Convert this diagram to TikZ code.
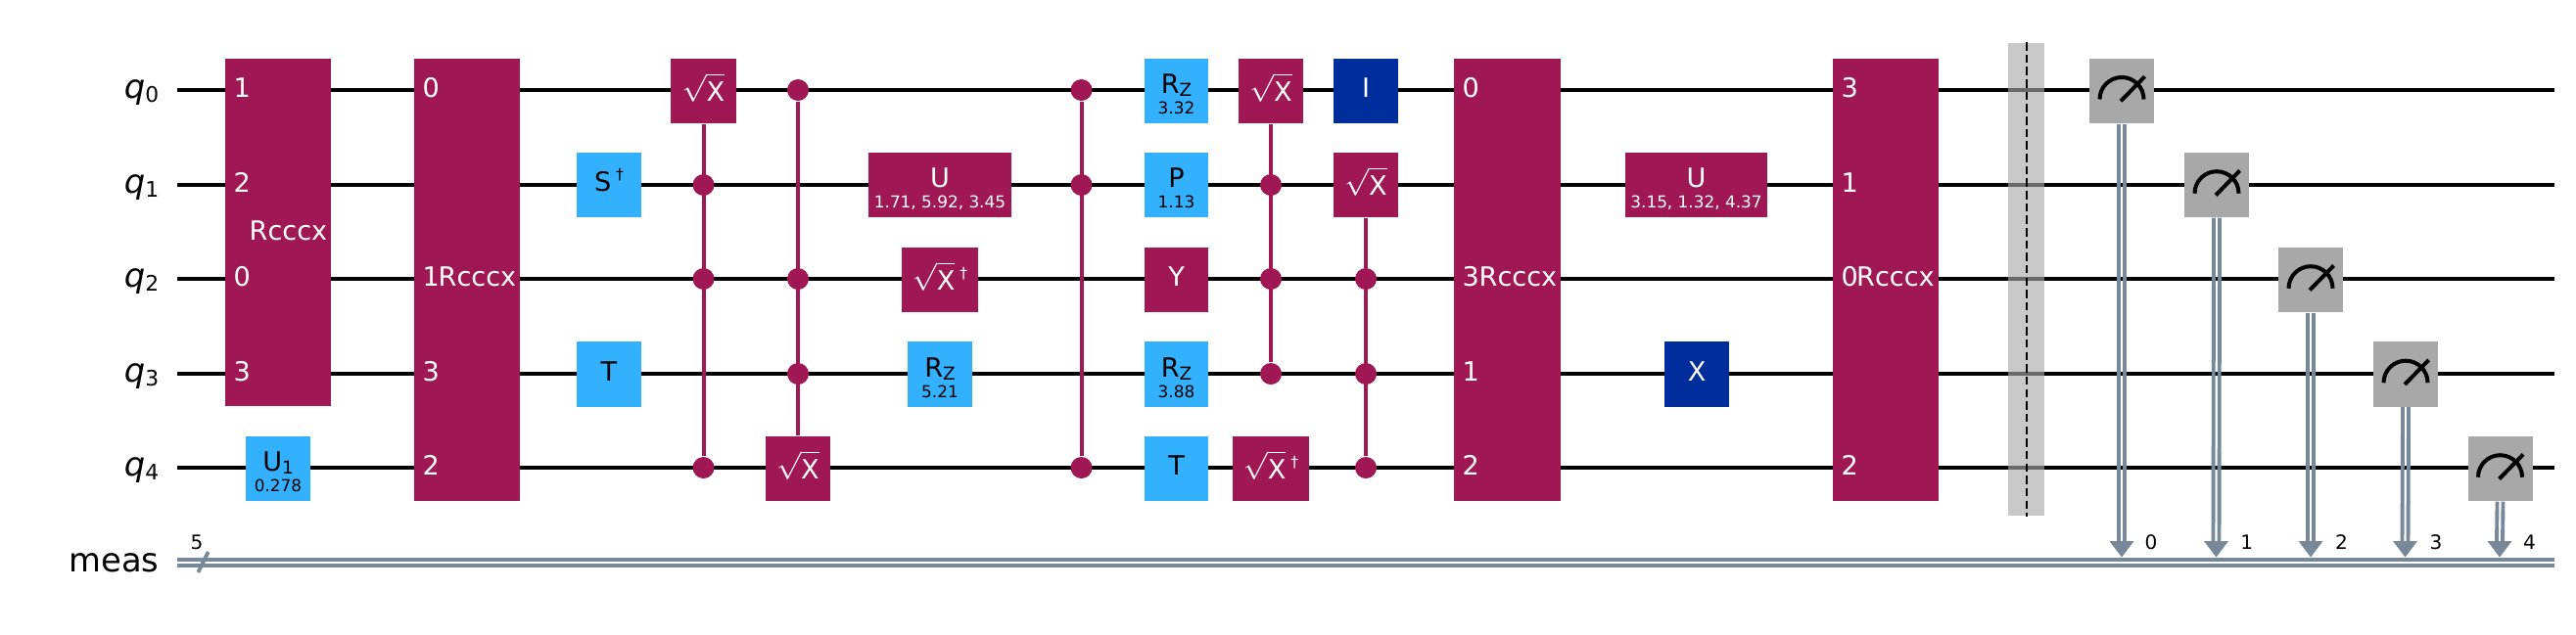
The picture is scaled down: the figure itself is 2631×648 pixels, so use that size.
\documentclass[tikz,border=0pt]{standalone}
\usepackage{xcolor}
\usepackage{fontspec}
\usepackage{tikz}
\setmainfont{DejaVu Sans}
\definecolor{qmag}{HTML}{9F1853}
\definecolor{qsky}{HTML}{33B1FF}
\definecolor{qnavy}{HTML}{002D9C}
\definecolor{qgray}{HTML}{A8A8A8}
\definecolor{qwire}{HTML}{778899}
\newcommand{\gatefont}{\fontsize{7.7}{9}\selectfont}
\newcommand{\parfont}{\fontsize{4.8}{6}\selectfont}
\newcommand{\regfont}{\fontsize{9.6}{11}\selectfont}
\newcommand{\bitfont}{\fontsize{5.7}{7}\selectfont}
\newcommand{\gsub}[1]{\raisebox{-0.9pt}{\fontsize{5.2}{6}\selectfont #1}}
\newcommand{\gdag}{\hspace{1.4pt}\raisebox{3.3pt}{\fontsize{4.4}{6}\selectfont †}}
\newcommand{\rootx}{$\sqrt{\mbox{X}\rule{0pt}{6.7pt}}$}
\newcommand{\qreg}[1]{\textit{q}\raisebox{-1.3pt}{\fontsize{6.2}{7}\selectfont #1}}
\newcommand{\dial}[1]{%
  \draw[dialline] ([xshift=-0.225cm,yshift=-0.087cm]#1.center) arc (180:0:0.225cm);
  \draw[dialline] ([xshift=-0.01cm,yshift=-0.105cm]#1.center) -- ([xshift=0.235cm,yshift=0.145cm]#1.center);}
\tikzset{
  gate/.style={inner sep=0pt,minimum width=0.66cm,minimum height=0.66cm,font=\gatefont,text height=0.19cm,text depth=0.06cm},
  mag/.style={gate,fill=qmag,text=white},
  sky/.style={gate,fill=qsky,text=black},
  navy/.style={gate,fill=qnavy,text=white},
  meter/.style={gate,fill=qgray},
  rootgate/.style={text height=0.30cm,text depth=0.09cm},
  pargate/.style={text height=0.19cm,text depth=0.14cm},
  parlab/.style={font=\parfont,anchor=base,inner sep=0pt},
  portlab/.style={font=\gatefont,text=white,anchor=base west,inner sep=0pt},
  reglab/.style={font=\regfont,anchor=base east,inner sep=0pt},
  bitlab/.style={font=\bitfont,anchor=base,inner sep=0pt},
  dot/.style={circle,fill=qmag,inner sep=0pt,minimum size=0.22cm},
  qline/.style={line width=1.14pt,black},
  ctrl/.style={line width=1.14pt,qmag},
  cline/.style={line width=1.1pt,qwire},
  dialline/.style={line width=1.14pt,black},
}
\begin{document}
\begin{tikzpicture}[x=0.01cm,y=-0.01cm]
    \useasboundingbox (0,0) rectangle (2631,648);
    % register names
    \node[reglab] (q0) at (163,100) {\qreg{0}};
    \node[reglab] (q1) at (163,197) {\qreg{1}};
    \node[reglab] (q2) at (163,293) {\qreg{2}};
    \node[reglab] (q3) at (163,390) {\qreg{3}};
    \node[reglab] (q4) at (163,486) {\qreg{4}};
    \node[reglab] (meas) at (163,584) {meas};
    % wires
    \coordinate (w0a) at (181,92);  \coordinate (w0b) at (2609,92);
    \coordinate (w1a) at (181,189); \coordinate (w1b) at (2609,189);
    \coordinate (w2a) at (181,285); \coordinate (w2b) at (2609,285);
    \coordinate (w3a) at (181,382); \coordinate (w3b) at (2609,382);
    \coordinate (w4a) at (181,478); \coordinate (w4b) at (2609,478);
    \draw[qline] (w0a) -- (w0b);
    \draw[qline] (w1a) -- (w1b);
    \draw[qline] (w2a) -- (w2b);
    \draw[qline] (w3a) -- (w3b);
    \draw[qline] (w4a) -- (w4b);
    \coordinate (c0a) at (181,572);   \coordinate (c0b) at (2609,572);
    \coordinate (c1a) at (181,578);   \coordinate (c1b) at (2609,578);
    \draw[cline] (c0a) -- (c0b);
    \draw[cline] (c1a) -- (c1b);
    \coordinate (sla) at (202.3,585); \coordinate (slb) at (212.7,564);
    \draw[cline] (sla) -- (slb);
    \node[bitlab] (five) at (201,561) {5};
    % first block
    \node[mag,minimum width=1.08cm,minimum height=3.55cm] (rcca) at (284,237.5) {};
    \node[portlab] (rcca1) at (238,99) {1};
    \node[portlab] (rcca2) at (238,196) {2};
    \node[portlab] (rcca0) at (238,292) {0};
    \node[portlab] (rcca3) at (238,389) {3};
    \node[portlab] (rccan) at (254,245) {Rcccx};
    \node[sky,pargate] (ua) at (284,479) {U\gsub{1}};
    \node[parlab] (uap) at ([yshift=-0.235cm]ua.center) {0.278};
    \node[mag,minimum width=1.08cm,minimum height=4.52cm] (rccb) at (477,286) {};
    \node[portlab] (rccb0) at (431,99) {0};
    \node[portlab] (rccb1) at (431,292) {1};
    \node[portlab] (rccb3) at (431,389) {3};
    \node[portlab] (rccb2) at (431,485) {2};
    \node[portlab] (rccbn) at (447,292) {Rcccx};
    \node[sky] (sdg) at (622,189) {S\gdag};
    \node[sky] (ta) at (622,382.5) {T};
    % controlled roots
    \node[mag,rootgate] (sxa) at (718.5,92.8) {\rootx};
    \node[dot] (da1) at (718.5,189) {};
    \node[dot] (da2) at (718.5,285) {};
    \node[dot] (da4) at (718.5,478) {};
    \draw[ctrl] (sxa) -- (da4);
    \node[dot] (db0) at (815,92) {};
    \node[dot] (db2) at (815,285) {};
    \node[dot] (db3) at (815,382) {};
    \node[mag,rootgate] (sxb) at (815,479) {\rootx};
    \draw[ctrl] (db0) -- (sxb);
    % middle column
    \node[mag,pargate,minimum width=1.46cm] (ub) at (960,189) {U};
    \node[parlab,text=white] (ubp) at ([yshift=-0.235cm]ub.center) {1.71, 5.92, 3.45};
    \node[mag,rootgate,minimum width=0.78cm] (sxdga) at (960,286) {\rootx\gdag};
    \node[sky,pargate] (rza) at (960,382.5) {R\gsub{Z}};
    \node[parlab] (rzap) at ([yshift=-0.235cm]rza.center) {5.21};
    \node[dot] (dc0) at (1104.5,92) {};
    \node[dot] (dc1) at (1104.5,189) {};
    \node[dot] (dc4) at (1104.5,478) {};
    \draw[ctrl] (dc0) -- (dc4);
    \node[sky,pargate,minimum width=0.65cm] (rzb) at (1201.5,92.8) {R\gsub{Z}};
    \node[parlab] (rzbp) at ([yshift=-0.235cm]rzb.center) {3.32};
    \node[sky,pargate,minimum width=0.65cm] (pa) at (1201.5,189) {P};
    \node[parlab] (pap) at ([yshift=-0.235cm]pa.center) {1.13};
    \node[mag,minimum width=0.65cm] (ya) at (1201.5,286) {Y};
    \node[sky,pargate,minimum width=0.65cm] (rzc) at (1201.5,382.5) {R\gsub{Z}};
    \node[parlab] (rzcp) at ([yshift=-0.235cm]rzc.center) {3.88};
    \node[sky,minimum width=0.65cm] (tb) at (1201.5,479) {T};
    \node[mag,rootgate] (sxc) at (1298,92.8) {\rootx};
    \node[dot] (dd1) at (1298,189) {};
    \node[dot] (dd2) at (1298,285) {};
    \node[dot] (dd3) at (1298,382) {};
    \draw[ctrl] (sxc) -- (dd3);
    \node[mag,rootgate,minimum width=0.78cm] (sxdgb) at (1298,479) {\rootx\gdag};
    \node[navy] (ia) at (1395,92.8) {I};
    \node[mag,rootgate] (sxd) at (1395,189) {\rootx};
    \node[dot] (de2) at (1395,285) {};
    \node[dot] (de3) at (1395,382) {};
    \node[dot] (de4) at (1395,478) {};
    \draw[ctrl] (sxd) -- (de4);
    % second block
    \node[mag,minimum width=1.09cm,minimum height=4.52cm] (rccc) at (1539.5,286) {};
    \node[portlab] (rccc0) at (1493,99) {0};
    \node[portlab] (rccc3) at (1493,292) {3};
    \node[portlab] (rccc1) at (1493,389) {1};
    \node[portlab] (rccc2) at (1493,485) {2};
    \node[portlab] (rcccn) at (1510,292) {Rcccx};
    \node[mag,pargate,minimum width=1.45cm] (uc) at (1732.5,189) {U};
    \node[parlab,text=white] (ucp) at ([yshift=-0.235cm]uc.center) {3.15, 1.32, 4.37};
    \node[navy] (xa) at (1733,382.5) {X};
    \node[mag,minimum width=1.08cm,minimum height=4.52cm] (rccd) at (1926,286) {};
    \node[portlab] (rccd3) at (1880,99) {3};
    \node[portlab] (rccd1) at (1880,196) {1};
    \node[portlab] (rccd0) at (1880,292) {0};
    \node[portlab] (rccd2) at (1880,485) {2};
    \node[portlab] (rccdn) at (1895.5,292) {Rcccx};
    % barrier
    \node[inner sep=0pt,minimum width=0.375cm,minimum height=4.83cm,fill=qgray,fill opacity=0.635] (bar) at (2069.6,285.5) {};
    \draw[line width=0.57pt,dash pattern=on 2.4pt off 1.2pt] (bar.north) -- (bar.south);
    % measures
    \coordinate (t0) at (2167,553);
    \coordinate (t1) at (2263.5,553);
    \coordinate (t2) at (2360,553);
    \coordinate (t3) at (2456.5,553);
    \coordinate (t4) at (2553,553);
    \node[meter] (ma) at (2167,92.8) {};
    \node[meter] (mb) at (2264,189) {};
    \node[meter] (mc) at (2360,286) {};
    \node[meter] (md) at (2457,382.5) {};
    \node[meter] (me) at (2553.5,479) {};
    \dial{ma}
    \dial{mb}
    \dial{mc}
    \dial{md}
    \dial{me}
    \draw[cline] ([xshift=-0.03cm]ma.south) -- ([xshift=-0.03cm]t0);
    \draw[cline] ([xshift=0.03cm]ma.south) -- ([xshift=0.03cm]t0);
    \draw[cline] ([xshift=-0.03cm]mb.south) -- ([xshift=-0.03cm]t1);
    \draw[cline] ([xshift=0.03cm]mb.south) -- ([xshift=0.03cm]t1);
    \draw[cline] ([xshift=-0.03cm]mc.south) -- ([xshift=-0.03cm]t2);
    \draw[cline] ([xshift=0.03cm]mc.south) -- ([xshift=0.03cm]t2);
    \draw[cline] ([xshift=-0.03cm]md.south) -- ([xshift=-0.03cm]t3);
    \draw[cline] ([xshift=0.03cm]md.south) -- ([xshift=0.03cm]t3);
    \draw[cline] ([xshift=-0.03cm]me.south) -- ([xshift=-0.03cm]t4);
    \draw[cline] ([xshift=0.03cm]me.south) -- ([xshift=0.03cm]t4);
    \fill[qwire] ([xshift=-0.125cm]t0) -- ([xshift=0.125cm]t0) -- ([yshift=-0.165cm]t0) -- cycle;
    \fill[qwire] ([xshift=-0.125cm]t1) -- ([xshift=0.125cm]t1) -- ([yshift=-0.165cm]t1) -- cycle;
    \fill[qwire] ([xshift=-0.125cm]t2) -- ([xshift=0.125cm]t2) -- ([yshift=-0.165cm]t2) -- cycle;
    \fill[qwire] ([xshift=-0.125cm]t3) -- ([xshift=0.125cm]t3) -- ([yshift=-0.165cm]t3) -- cycle;
    \fill[qwire] ([xshift=-0.125cm]t4) -- ([xshift=0.125cm]t4) -- ([yshift=-0.165cm]t4) -- cycle;
    \node[bitlab] (b0) at (2197,561) {0};
    \node[bitlab] (b1) at (2294.6,561) {1};
    \node[bitlab] (b2) at (2391.5,561) {2};
    \node[bitlab] (b3) at (2488,561) {3};
    \node[bitlab] (b4) at (2583.5,561) {4};
  \end{tikzpicture}
\end{document}
